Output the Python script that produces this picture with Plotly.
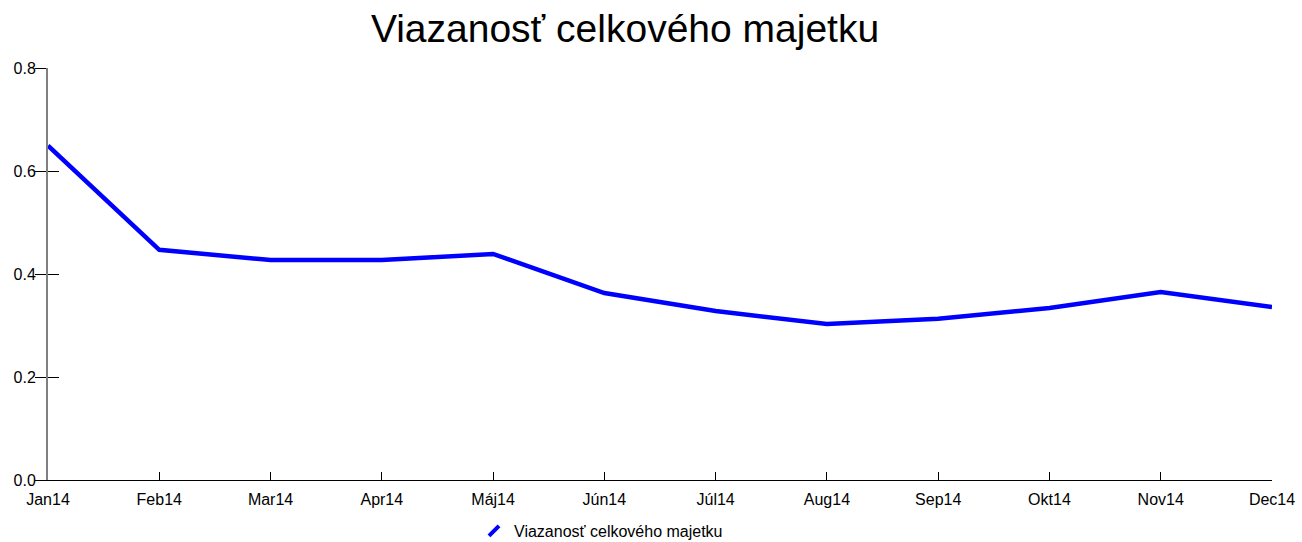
import plotly.graph_objects as go

months = ["Jan14", "Feb14", "Mar14", "Apr14", "Máj14", "Jún14",
          "Júl14", "Aug14", "Sep14", "Okt14", "Nov14", "Dec14"]
values = [0.649, 0.447, 0.427, 0.427, 0.439, 0.363,
          0.328, 0.303, 0.313, 0.334, 0.365, 0.336]
series_name = "Viazanosť celkového majetku"
y_ticks = [0.0, 0.2, 0.4, 0.6, 0.8]
y_tick_text = ["0.0", "0.2", "0.4", "0.6", "0.8"]

font = "Liberation Sans, Arial, sans-serif"
blue = "#0000FF"

fig = go.Figure()
fig.add_trace(go.Scatter(
    x=list(range(len(months))), y=values, mode="lines",
    line=dict(color=blue, width=4.5), showlegend=False, name=series_name,
))
# legend entry with a short slanted stroke
fig.add_trace(go.Scatter(
    x=[None], y=[None], mode="markers", name=series_name,
    marker=dict(symbol="line-ne", size=10, color=blue,
                line=dict(color=blue, width=4)),
))
# overlay axis that draws the inward half of the y ticks
fig.add_trace(go.Scatter(x=[None], y=[None], yaxis="y2", showlegend=False))

fig.update_layout(
    width=1302, height=542,
    margin=dict(l=48, r=30, t=68, b=62, autoexpand=False),
    paper_bgcolor="white", plot_bgcolor="white",
    font=dict(family=font, size=16, color="black"),
    title=dict(text=series_name, x=625 / 1302, xanchor="center",
               y=1 - 28 / 542, yanchor="middle",
               font=dict(family=font, size=39, color="black")),
    xaxis=dict(
        tickmode="array", tickvals=list(range(len(months))), ticktext=months,
        range=[0, len(months) - 1], showgrid=False, zeroline=False,
        showline=True, linecolor="black", linewidth=1,
        ticks="inside", ticklen=8, tickcolor="black", tickwidth=1,
        tickfont=dict(size=16, color="black"), ticklabelstandoff=5,
        automargin=False,
    ),
    yaxis=dict(
        range=[0, 0.8], tickmode="array", tickvals=y_ticks, ticktext=y_tick_text,
        showgrid=False, zeroline=False, showline=True, linecolor="#808080",
        linewidth=2, ticks="outside", ticklen=11, tickcolor="black", tickwidth=1,
        tickfont=dict(size=16, color="black"), ticklabelstandoff=-4,
        automargin=False,
    ),
    yaxis2=dict(
        range=[0, 0.8], overlaying="y", side="left", tickmode="array",
        tickvals=y_ticks, showticklabels=False, showgrid=False, zeroline=False,
        ticks="inside", ticklen=11, tickcolor="black", tickwidth=1,
        automargin=False,
    ),
    legend=dict(orientation="h", x=(601 - 48) / 1224, xanchor="center",
                y=(480 - 531) / 412, yanchor="middle",
                font=dict(size=16, color="black")),
)

fig.write_html("out.html")
